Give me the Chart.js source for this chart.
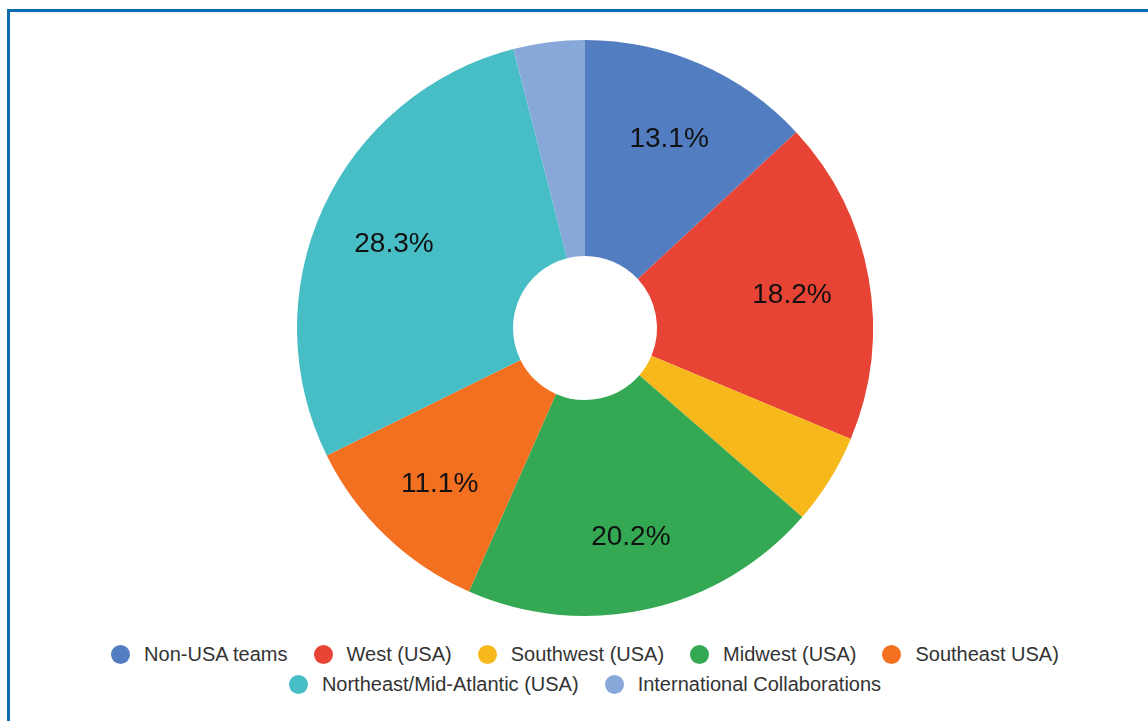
<!DOCTYPE html>
<html>
<head>
<meta charset="utf-8">
<script src="https://cdn.jsdelivr.net/npm/chart.js@4"></script>
<style>
  html, body { margin: 0; padding: 0; background: #fff; overflow: hidden; }
  body { width: 1148px; height: 721px; position: relative; font-family: "Liberation Sans", Arial, sans-serif; }
  #frame {
    position: absolute; left: 7px; top: 9px; width: 1200px; height: 800px;
    border-left: 3px solid #0d6db3; border-top: 3px solid #0d6db3;
  }
  #chart-wrap { position: absolute; left: 0; top: 0; width: 1170px; height: 630px; }
  #legend {
    position: absolute; left: 35px; top: 639px; width: 1100px;
    display: flex; flex-wrap: wrap; justify-content: center;
    font-size: 20px; color: #333; line-height: 30px;
  }
  .item { display: flex; align-items: center; margin: 0 13px; white-space: nowrap; }
  .dot { width: 19px; height: 19px; border-radius: 50%; margin-right: 14px; }
</style>
</head>
<body>
<div id="frame"></div>
<div id="chart-wrap"><canvas id="region-chart"></canvas></div>
<div id="legend"></div>

<script>
const regions = ['Non-USA teams', 'West (USA)', 'Southwest (USA)', 'Midwest (USA)', 'Southeast USA)', 'Northeast/Mid-Atlantic (USA)', 'International Collaborations'];
const shares = [13.1, 18.2, 5.1, 20.2, 11.1, 28.3, 4.0];
const colors = ['#537dc1', '#e84436', '#f7b81c', '#34a853', '#f37021', '#47bdc6', '#87a8d9'];

// Draw the percentage on each slice big enough to hold it
const sliceLabels = {
    id: 'sliceLabels',
    afterDatasetsDraw(chart) {
        const ctx = chart.ctx;
        const meta = chart.getDatasetMeta(0);
        ctx.save();
        ctx.font = '28px "Liberation Sans", Arial, sans-serif';
        ctx.fillStyle = '#111';
        ctx.textAlign = 'center';
        ctx.textBaseline = 'middle';
        meta.data.forEach((arc, i) => {
            if (shares[i] < 10) return;
            const mid = (arc.startAngle + arc.endAngle) / 2;
            const r = arc.outerRadius * 0.73;
            ctx.fillText(shares[i].toFixed(1) + '%', arc.x + Math.cos(mid) * r, arc.y + Math.sin(mid) * r + 4);
        });
        ctx.restore();
    }
};

document.addEventListener('DOMContentLoaded', function() {
    const ctx = document.getElementById('region-chart').getContext('2d');

    window.regionChart = new Chart(ctx, {
        type: 'doughnut',
        data: {
            labels: regions,
            datasets: [{
                data: shares,
                backgroundColor: colors,
                borderWidth: 0
            }]
        },
        options: {
            responsive: true,
            maintainAspectRatio: false,
            animation: false,
            cutout: '25%',
            layout: { padding: { top: 40, bottom: 14 } },
            plugins: {
                legend: { display: false },
                tooltip: { enabled: false }
            }
        },
        plugins: [sliceLabels]
    });

    // Legend built from the same arrays
    const legend = document.getElementById('legend');
    regions.forEach((name, i) => {
        const item = document.createElement('div');
        item.className = 'item';
        item.innerHTML = '<span class="dot" style="background:' + colors[i] + '"></span>' + name;
        legend.appendChild(item);
    });
});
</script>
</body>
</html>
